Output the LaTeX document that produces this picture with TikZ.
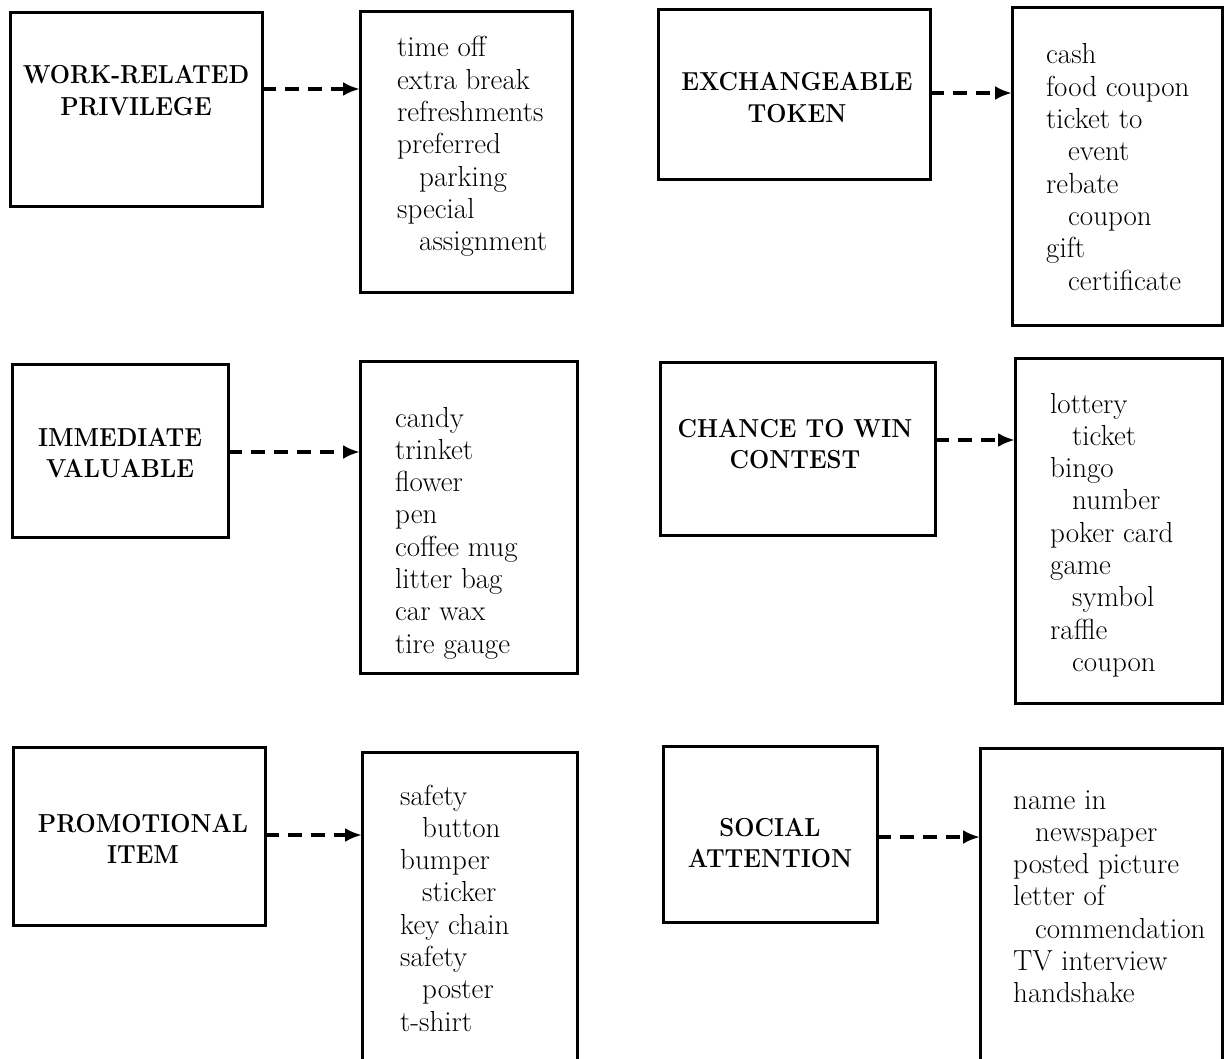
\documentclass[tikz,border=0pt]{standalone}
\usepackage{graphicx}
\usetikzlibrary{arrows.meta}
\newcommand\catlab[2]{\scalebox{0.92}[1]{\begin{tabular}[t]{@{}c@{}}#1\\#2\end{tabular}}}
\newcommand\itemlist[1]{\begin{tabular}[t]{@{}l@{}}#1\end{tabular}}
\newcommand\ind{\hspace*{22pt}}
\begin{document}
\begin{tikzpicture}[x=1pt,y=-1pt,
  catbox/.style={draw, line width=3pt, anchor=north west, inner sep=0pt, outer sep=0pt},
  listbox/.style={draw, line width=3pt, anchor=north west, inner sep=0pt, outer sep=0pt},
  openbox/.style={anchor=north west, inner sep=0pt, outer sep=0pt},
  lab/.style={font=\fontsize{26}{31.5}\selectfont\bfseries, anchor=base, inner sep=0pt},
  items/.style={font=\fontsize{29}{32.3}\selectfont, anchor=base west, inner sep=0pt},
  arr/.style={line width=3.8pt, dash pattern=on 14pt off 9pt, -{Latex[length=17pt,width=14pt]}}]
\useasboundingbox (0,0) rectangle (1225,1059);

% row 1 left
\node[catbox, minimum width=252pt, minimum height=194pt] (cat1) at (10,13) {};
\node[lab] (lab1) at (136,84) {\catlab{WORK-RELATED}{PRIVILEGE}};
\node[listbox, minimum width=212pt, minimum height=280pt] (list1) at (360,12) {};
\node[items] (it1) at (397,57) {\itemlist{time off\\extra break\\refreshments\\preferred\\\ind parking\\special\\\ind assignment}};
\coordinate (a1) at (0,89);
\draw[arr] (cat1.east |- a1) -- (list1.west |- a1);

% row 1 right
\node[catbox, minimum width=272pt, minimum height=170pt] (cat2) at (658,10) {};
\node[lab] (lab2) at (797,91) {\catlab{EXCHANGEABLE}{TOKEN}};
\node[listbox, minimum width=210pt, minimum height=317pt] (list2) at (1012,8) {};
\node[items] (it2) at (1046,64) {\itemlist{cash\\food coupon\\ticket to\\\ind event\\rebate\\\ind coupon\\gift\\\ind certificate}};
\coordinate (a2) at (0,93);
\draw[arr] (cat2.east |- a2) -- (list2.west |- a2);

% row 2 left
\node[catbox, minimum width=216pt, minimum height=173pt] (cat3) at (12,364) {};
\node[lab] (lab3) at (120,446) {\catlab{IMMEDIATE}{VALUABLE}};
\node[listbox, minimum width=217pt, minimum height=312pt] (list3) at (360,361) {};
\node[items] (it3) at (395,427) {\itemlist{candy\\trinket\\flower\\pen\\coffee mug\\litter bag\\car wax\\tire gauge}};
\coordinate (a3) at (0,452);
\draw[arr] (cat3.east |- a3) -- (list3.west |- a3);

% row 2 right
\node[catbox, minimum width=275pt, minimum height=173pt] (cat4) at (660,362) {};
\node[lab] (lab4) at (795,437) {\catlab{CHANCE TO WIN}{CONTEST}};
\node[listbox, minimum width=207pt, minimum height=345pt] (list4) at (1015,358) {};
\node[items] (it4) at (1050,413) {\itemlist{lottery\\\ind ticket\\bingo\\\ind number\\poker card\\game\\\ind symbol\\raffle\\\ind coupon}};
\coordinate (a4) at (0,440);
\draw[arr] (cat4.east |- a4) -- (list4.west |- a4);

% row 3 left
\node[catbox, minimum width=252pt, minimum height=178pt] (cat5) at (13,747) {};
\node[lab] (lab5) at (143,832) {\catlab{PROMOTIONAL}{ITEM}};
\node[openbox, minimum width=215pt, minimum height=320pt] (list5) at (362,752) {};
\draw[line width=3pt] (list5.south west) -- (list5.north west) -- (list5.north east) -- (list5.south east);
\node[items] (it5) at (400,805) {\itemlist{safety\\\ind button\\bumper\\\ind sticker\\key chain\\safety\\\ind poster\\t-shirt}};
\coordinate (a5) at (0,835);
\draw[arr] (cat5.east |- a5) -- (list5.west |- a5);

% row 3 right
\node[catbox, minimum width=214pt, minimum height=176pt] (cat6) at (663,746) {};
\node[lab] (lab6) at (770,836) {\catlab{SOCIAL}{ATTENTION}};
\node[openbox, minimum width=242pt, minimum height=325pt] (list6) at (980,748) {};
\draw[line width=3pt] (list6.south west) -- (list6.north west) -- (list6.north east) -- (list6.south east);
\node[items] (it6) at (1013,809) {\itemlist{name in\\\ind newspaper\\posted picture\\letter of\\\ind commendation\\TV interview\\handshake}};
\coordinate (a6) at (0,837);
\draw[arr] (cat6.east |- a6) -- (list6.west |- a6);
\end{tikzpicture}
\end{document}
